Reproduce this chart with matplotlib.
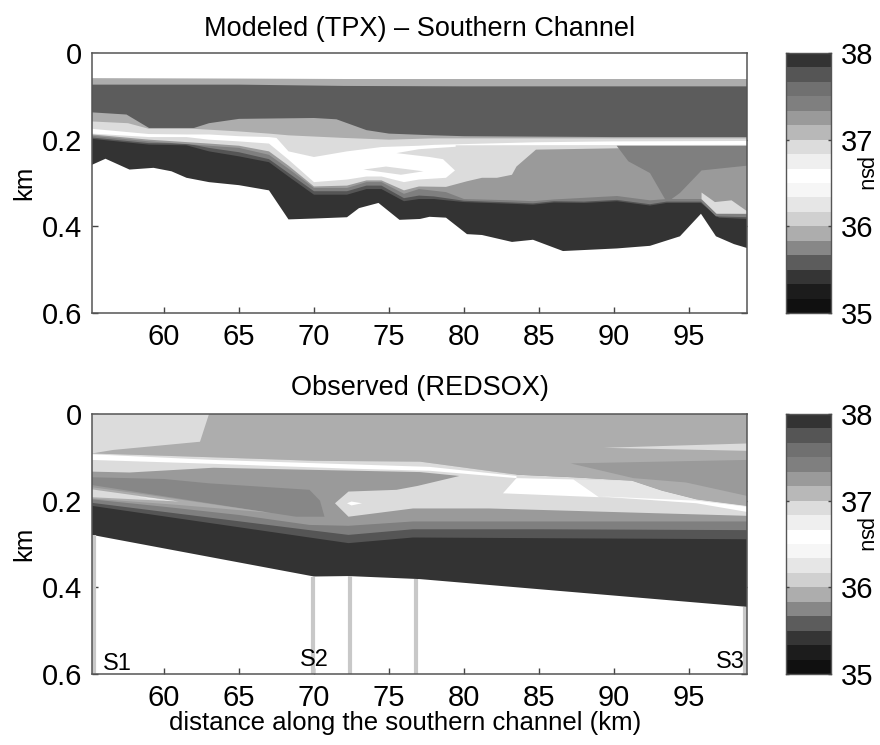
import numpy as np
import matplotlib
matplotlib.use("Agg")
import matplotlib.pyplot as plt
from matplotlib.colors import ListedColormap, BoundaryNorm

plt.rcParams['font.family'] = ['Liberation Sans', 'DejaVu Sans']

# ---- colour scale ----
cbar_levels = [35 + i / 6 for i in range(19)]
cbar_grays = ['#101010', '#1c1c1c', '#353535', '#5c5c5c', '#878787', '#adadad',
              '#d0d0d0', '#e6e6e6', '#f6f6f6', '#ffffff', '#efefef', '#dcdcdc',
              '#b8b8b8', '#9a9a9a', '#7f7f7f', '#707070', '#555555', '#333333']
cmap = ListedColormap(cbar_grays)
norm = BoundaryNorm(cbar_levels, cmap.N)
XMIN, XMAX = 55.2, 98.87
x_ticks = [60, 65, 70, 75, 80, 85, 90, 95]
y_ticks = [0, 0.2, 0.4, 0.6]
y_labels = ['0', '0.2', '0.4', '0.6']

# ---- Modeled section: isohaline depths (km) along distance (km) ----
m_bottom_x = [55.2, 56.1, 57.7, 59.3, 60.5, 61.5, 63, 65, 67, 68.3, 70, 72.2, 73, 74.3, 75.7, 77.07, 77.7, 78.8,
              80.2, 81.2, 83.2, 84.6, 86.6, 90.2, 92.4, 94.4, 95.8, 96.8, 98, 98.87]
m_bottom_d = [.258, .244, .269, .265, .273, .288, .298, .305, .317, .384, .382, .379, .358, .346, .385, .383, .378, .380,
              .418, .42, .436, .431, .457, .451, .445, .423, .371, .423, .441, .45]
m_i1_x = [55.2, 59, 61.5, 63, 65, 67, 68.3, 70, 72.2, 73.5, 74.5, 76, 77, 78, 80, 83.2, 84.6, 86, 88, 90.2, 92.4, 93.5, 95.8, 97, 98.87]
m_i1_d = [.198, .2115, .213, .227, .2385, .252, .285, .327, .327, .314, .314, .342, .337, .337, .344, .348, .35, .345, .346, .342, .352, .346, .346, .38, .383]
m_i2_x = [55.2, 59, 61.5, 63, 65, 67, 68.3, 70, 72.2, 73.5, 74.5, 76, 77, 78, 80, 83.2, 84.6, 86, 88, 90.2, 92.4, 93.5, 95.8, 96.8, 98.87]
m_i2_d = [.195, .208, .209, .219, .229, .245, .277, .319, .319, .306, .306, .335, .329, .331, .341, .345, .347, .342, .343, .339, .349, .343, .343, .377, .379]
m_i3_x = [55.2, 59, 63, 65, 67, 68.3, 70, 72.2, 73.5, 74.5, 76, 77, 78.8, 80, 83.2, 84.6, 86, 90.2, 92.4, 93.5, 95.8, 96.8, 98.87]
m_i3_d = [.191, .204, .214, .219, .235, .267, .3115, .3115, .298, .298, .325, .314, .321, .337, .34, .342, .338, .33, .34, .337, .337, .368, .372]
m_i4_x = [55.2, 59, 63, 65, 67, 68.3, 70, 72.2, 73.5, 74.5, 76, 77, 78.8, 80.2, 81.2, 82.2, 83.2, 83.5, 84.8, 98.87]
m_i4_d = [.188, .2, .209, .214, .227, .26, .308, .306, .294, .294, .317, .308, .309, .296, .288, .288, .281, .262, .223, .215]
m_i5_x = [55.2, 59, 61.5, 63, 65, 67, 68.3, 70, 72.2, 73.5, 74.5, 76, 77, 78.8, 79.4, 79.45, 98.87]
m_i5_d = [.186, .194, .194, .2, .204, .209, .246, .298, .292, .285, .285, .298, .292, .288, .271, .213, .212]
m_i6_x = [55.2, 59, 61.5, 63, 65, 67, 67.5, 68.3, 70, 72.2, 74.5, 77, 78, 84.8, 90, 98.87]
m_i6_d = [.175, .187, .188, .188, .192, .194, .196, .227, .24, .227, .217, .214, .212, .206, .204, .203]
m_i7_x = [55.2, 57.6, 59, 62, 65, 67, 68.3, 72, 75, 78, 84.8, 98.87]
m_i7_d = [.158, .162, .175, .175, .181, .186, .19, .196, .2, .197, .197, .197]
m_i8_x = [55.2, 57.5, 59, 62, 63, 65, 70, 71.5, 73.5, 75, 78, 80, 90, 98.87]
m_i8_d = [.137, .142, .173, .173, .162, .152, .15, .153, .178, .186, .19, .192, .194, .194]
m_i9_x = [55.2, 65, 72, 80, 98.87]
m_i9_d = [.073, .073, .076, .077, .077]
m_i10_x = [55.2, 65, 72, 98.87]
m_i10_d = [.058, .059, .060, .060]
m_layer_sal = [37.92, 37.75, 37.42, 37.25, 36.92, 36.58, 36.92, 35.92, 35.58, 35.92, 36.58]
m_wedge_x = [90.18, 90.96, 92.4, 93.4, 93.84, 94.4, 95.84, 98.87, 98.87]
m_wedge_d = [.214, .25, .277, .337, .337, .323, .271, .26, .214]
m_lens1_x = [75.5, 77, 79.6, 79.6, 79.4, 78.6, 77.7]
m_lens1_d = [.231, .222, .216, .271, .271, .245, .24]
m_lens2_x = [73.3, 74.8, 77.3, 75.8]
m_lens2_d = [.269, .262, .273, .281]
m_end_x = [95.84, 96.73, 97.84, 98.87, 98.87, 96.84, 95.84]
m_end_d = [.322, .344, .34, .365, .371, .371, .337]

# ---- Observed section ----
o_bottom_x = [55.2, 70, 72.3, 77.07, 98.87]
o_bottom_d = [.279, .375, .374, .381, .445]
o_i1_x = [55.2, 69.7, 72.3, 76.6, 98.87]
o_i1_d = [.212, .285, .298, .285, .289]
o_i2_x = [55.2, 69.7, 72.3, 76.6, 85, 98.87]
o_i2_d = [.205, .268, .279, .266, .266, .268]
o_i3_x = [55.2, 60, 65, 69.7, 72.3, 76.6, 85, 98.87]
o_i3_d = [.197, .214, .233, .256, .258, .248, .248, .248]
o_wedge_ux = [55.2, 60, 63, 69.7, 70.4, 70.7]
o_wedge_ud = [.146, .15, .16, .175, .2, .237]
o_wedge_lx = [55.2, 67.1, 68.8, 70.7]
o_wedge_ld = [.164, .228, .237, .237]
o_light_ux = [71.4, 72.3, 75.5, 76.9, 79.7, 83.5, 87.3, 91.2, 93.2, 95.5, 98.87]
o_light_ud = [.206, .179, .175, .166, .143, .14, .146, .154, .177, .197, .212]
o_light_lx = [71.4, 72.3, 76.6, 81.7, 98.87]
o_light_ld = [.206, .237, .218, .218, .235]
o_pale_x = [87.3, 91.2, 93.2, 95.5, 98.87, 98.87, 95.5, 89]
o_pale_d = [.151, .154, .177, .197, .212, .22, .204, .192]
o_patch_x = [82.6, 83.5, 87.3, 89]
o_patch_d = [.183, .148, .151, .192]
o_stripe2_x = [89, 95.5, 98.87, 98.87, 95.5]
o_stripe2_d = [.19, .2, .214, .226, .206]
o_top_x = [55.2, 63.3, 70, 77.07, 83.5, 87.3, 91.2, 93.2, 95.5, 98.87]
o_top_d = [.091, .10, .108, .11, .14, .146, .154, .177, .197, .212]
o_pale_ux = [55.2, 63.3, 70, 77.07, 83.5]
o_pale_ud = [.091, .10, .108, .11, .14]
o_pale_lx = [55.2, 57.7, 63.3, 70, 77.07, 79.7, 83.5]
o_pale_ld = [.133, .135, .124, .129, .134, .143, .148]
o_stripe1_ux = [55.2, 63.3, 72.3, 77.7, 83.5]
o_stripe1_ud = [.093, .106, .116, .122, .143]
o_stripe1_lx = [55.2, 63.3, 72.3, 77.7, 83.5]
o_stripe1_ld = [.106, .115, .126, .131, .148]
o_corner_x = [55.2, 63, 62.4, 56.6, 55.2]
o_corner_d = [0, 0, .064, .083, .091]
o_dw_x = [87.1, 98.87, 98.87, 94.8, 91.3]
o_dw_d = [.114, .106, .189, .158, .148]
o_thin_x = [89.3, 98.87, 98.87]
o_thin_d = [.078, .068, .085]
o_ll1_x = [55.2, 58.8, 67.1, 61, 55.2]
o_ll1_d = [.169, .186, .228, .21, .195]
o_ll2_x = [55.2, 61, 55.2]
o_ll2_d = [.174, .202, .192]
o_ll3_x = [58, 61, 59]
o_ll3_d = [.19, .202, .195]
o_spot_x = [72.2, 72.5, 73.2, 72.5]
o_spot_d = [.206, .202, .206, .211]

station_km = [55.33, 69.93, 72.37, 76.8, 98.73]
station_top = [.279, .375, .374, .381, .445]
station_names = ['S1', 'S2', 'S3']
station_name_x = [55.93, 69.07, 96.8]
station_name_y = [.576, .568, .572]


def col(s):
    return cmap(norm(s))


def surface_fill(ax, x, d, s):
    ax.fill(np.r_[x[0], x, x[-1]], np.r_[0, d, 0], facecolor=col(s), edgecolor='none', lw=0)


def poly(ax, x, d, s):
    ax.fill(x, d, facecolor=col(s), edgecolor='none', lw=0)


def between(ax, xu, du, xl, dl, s):
    ax.fill(np.r_[xu, xl[::-1]], np.r_[du, dl[::-1]], facecolor=col(s), edgecolor='none', lw=0)


def style(ax):
    ax.set_xlim(XMIN, XMAX)
    ax.set_ylim(0.6, 0)
    ax.set_xticks(x_ticks)
    ax.set_yticks(y_ticks)
    ax.set_yticklabels(y_labels)
    ax.set_axisbelow(True)
    ax.tick_params(direction='in', top=True, right=True, length=4.5, width=1, color='#444444',
                   labelsize=TICK_FS, pad=7)
    for sp in ax.spines.values():
        sp.set_color('#555555')
        sp.set_linewidth(1.1)
    ax.set_ylabel('km', fontsize=LABEL_FS, labelpad=4)


def colorbar(fig, rect, psu_y):
    cax = fig.add_axes(rect)
    lev = np.array(cbar_levels)
    cax.pcolormesh([0, 1], lev, np.array(lev[:-1] + 1 / 12)[:, None], cmap=cmap, norm=norm)
    cax.set_xticks([])
    cax.set_ylim(35, 38)
    cax.set_yticks([35, 36, 37, 38])
    cax.yaxis.tick_right()
    cax.set_axisbelow(False)
    cax.tick_params(axis='y', direction='in', left=True, right=True, length=2.5, width=1, color='#444444',
                    labelsize=TICK_FS, pad=7)
    for sp in cax.spines.values():
        sp.set_color('#555555')
        sp.set_linewidth(1.0)
    fig.text(865 / W, 1 - psu_y / H, 'psu', fontsize=15.5, rotation=270, ha='center', va='center')


TICK_FS = 21
LABEL_FS = 18.5
TITLE_FS = 19.5

W, H = 880, 745
fig = plt.figure(figsize=(W / 100, H / 100), dpi=100, facecolor='white')
ax1 = fig.add_axes([92 / W, 1 - 313 / H, 655 / W, 260 / H])
ax2 = fig.add_axes([92 / W, 1 - 674 / H, 655 / W, 260 / H])

# Modeled section, deepest layer first
m_layers = [(m_bottom_x, m_bottom_d), (m_i1_x, m_i1_d), (m_i2_x, m_i2_d), (m_i3_x, m_i3_d),
            (m_i4_x, m_i4_d), (m_i5_x, m_i5_d), (m_i6_x, m_i6_d), (m_i7_x, m_i7_d),
            (m_i8_x, m_i8_d), (m_i9_x, m_i9_d), (m_i10_x, m_i10_d)]
for (x, d), s in zip(m_layers, m_layer_sal):
    surface_fill(ax1, x, d, s)
poly(ax1, m_wedge_x, m_wedge_d, 37.42)
poly(ax1, m_lens1_x, m_lens1_d, 36.92)
poly(ax1, m_lens2_x, m_lens2_d, 36.92)
poly(ax1, m_end_x, m_end_d, 36.92)
ax1.set_title('Modeled (TPX) – Southern Channel', fontsize=TITLE_FS, pad=12)

# Observed section
surface_fill(ax2, o_bottom_x, o_bottom_d, 37.92)
surface_fill(ax2, o_i1_x, o_i1_d, 37.75)
surface_fill(ax2, o_i2_x, o_i2_d, 37.42)
surface_fill(ax2, o_i3_x, o_i3_d, 37.25)
between(ax2, o_wedge_ux, o_wedge_ud, o_wedge_lx, o_wedge_ld, 35.75)
between(ax2, o_light_ux, o_light_ud, o_light_lx, o_light_ld, 36.92)
poly(ax2, o_spot_x, o_spot_d, 36.58)
poly(ax2, o_pale_x, o_pale_d, 36.25)
poly(ax2, o_patch_x, o_patch_d, 36.58)
poly(ax2, o_stripe2_x, o_stripe2_d, 36.58)
surface_fill(ax2, o_top_x, o_top_d, 35.92)
poly(ax2, o_dw_x, o_dw_d, 37.25)
poly(ax2, o_thin_x, o_thin_d, 36.92)
between(ax2, o_pale_ux, o_pale_ud, o_pale_lx, o_pale_ld, 36.92)
between(ax2, o_stripe1_ux, o_stripe1_ud, o_stripe1_lx, o_stripe1_ld, 36.58)
poly(ax2, o_corner_x, o_corner_d, 36.92)
poly(ax2, o_ll1_x, o_ll1_d, 35.92)
poly(ax2, o_ll2_x, o_ll2_d, 36.92)
poly(ax2, o_ll3_x, o_ll3_d, 36.58)
ax2.vlines(station_km, station_top, 0.6, color='#c8c8c8', lw=3.0, zorder=1.5)
for name, x, y in zip(station_names, station_name_x, station_name_y):
    ax2.text(x, y, name, fontsize=17, ha='left', va='center', zorder=4)
ax2.set_title('Observed (REDSOX)', fontsize=TITLE_FS, pad=14)
ax2.set_xlabel('distance along the southern channel (km)', fontsize=LABEL_FS, labelpad=0)
ax2.xaxis.set_label_coords(0.478, -0.142, transform=ax2.transAxes)

style(ax1)
style(ax2)
colorbar(fig, [786 / W, 1 - 313 / H, 45 / W, 260 / H], 174)
colorbar(fig, [786 / W, 1 - 674 / H, 45 / W, 260 / H], 535)

fig.savefig('out.png', dpi=100, facecolor='white')
